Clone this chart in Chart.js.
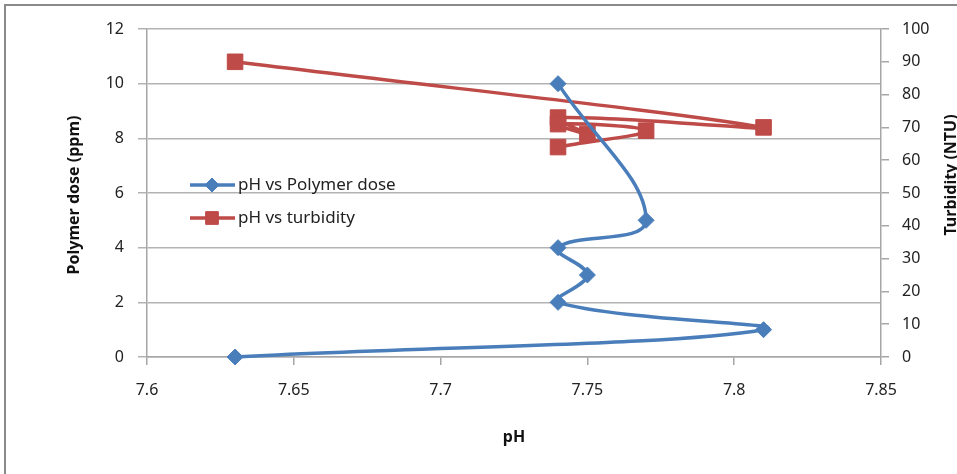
<!DOCTYPE html>
<html>
<head>
<meta charset="utf-8">
<script src="https://cdn.jsdelivr.net/npm/chart.js@4.4.0/dist/chart.umd.min.js"></script>
<style>
  html, body { margin: 0; padding: 0; background: #fff; overflow: hidden; }
  #frame { position: absolute; left: 4px; top: 4px; width: 2000px; height: 2000px;
           border-left: 2px solid #8a8a8a; border-top: 2px solid #8a8a8a; }
  #wrap { position: absolute; left: 0; top: 0; width: 957px; height: 474px; }
</style>
</head>
<body>
<div id="frame"></div>
<div id="wrap"><canvas id="chart"></canvas></div>
<script>
// values
const phPolymer = [7.63, 7.81, 7.74, 7.75, 7.74, 7.77, 7.74];
const polymerDose = [0, 1, 2, 3, 4, 5, 10];
const phTurbidity = [7.63, 7.81, 7.74, 7.75, 7.74, 7.77, 7.74];
const turbidity = [90, 70, 73, 68, 71, 69, 64];
const seriesNames = ['pH vs Polymer dose', 'pH vs turbidity'];

const BLUE = '#4a7ebb';
const RED = '#be4b48';
const FONT = '"Noto Sans", "Open Sans", sans-serif';

function toPoints(xs, ys) {
    return xs.map((x, i) => ({ x: x, y: ys[i] }));
}

// legend sits inside the plot, Excel style
const insideLegend = {
    id: 'insideLegend',
    afterDraw(chart) {
        const ctx = chart.ctx;
        ctx.save();
        chart.data.datasets.forEach((ds, i) => {
            const y = 185 + i * 33;
            ctx.strokeStyle = ds.borderColor;
            ctx.lineWidth = 3.5;
            ctx.beginPath();
            ctx.moveTo(190, y);
            ctx.lineTo(235, y);
            ctx.stroke();
            ctx.fillStyle = ds.backgroundColor;
            ctx.strokeStyle = ds.borderColor;
            ctx.lineWidth = 1;
            Chart.helpers.drawPoint(ctx, { pointStyle: ds.pointStyle, radius: i === 0 ? 7 : 9, rotation: 0, borderWidth: 1 }, 212, y);
            ctx.fillStyle = '#222';
            ctx.font = '17px ' + FONT;
            ctx.textBaseline = 'middle';
            ctx.textAlign = 'left';
            ctx.fillText(ds.label, 238, y);
        });
        ctx.restore();
    }
};

// axis titles drawn by hand so the right one reads bottom to top
const axisTitles = {
    id: 'axisTitles',
    afterDraw(chart) {
        const ctx = chart.ctx;
        const a = chart.chartArea;
        ctx.save();
        ctx.fillStyle = '#111';
        ctx.font = 'bold 16px ' + FONT;
        ctx.textAlign = 'center';
        ctx.textBaseline = 'middle';
        ctx.fillText('pH', (a.left + a.right) / 2, 437);
        ctx.translate(74, (a.top + a.bottom) / 2 + 2);
        ctx.rotate(-Math.PI / 2);
        ctx.fillText('Polymer dose (ppm)', 0, 0);
        ctx.restore();
        ctx.save();
        ctx.fillStyle = '#111';
        ctx.font = 'bold 16px ' + FONT;
        ctx.textAlign = 'center';
        ctx.textBaseline = 'middle';
        ctx.translate(951, 175);
        ctx.rotate(-Math.PI / 2);
        ctx.fillText('Turbidity (NTU)', 0, 0);
        ctx.restore();
    }
};

new Chart(document.getElementById('chart'), {
    type: 'scatter',
    data: {
        datasets: [{
            label: seriesNames[0],
            data: toPoints(phPolymer, polymerDose),
            yAxisID: 'y',
            showLine: true,
            tension: 0.4,
            borderColor: BLUE,
            backgroundColor: BLUE,
            borderWidth: 3.5,
            pointStyle: 'rectRot',
            pointRadius: 8,
            pointBorderWidth: 1,
            clip: false
        }, {
            label: seriesNames[1],
            data: toPoints(phTurbidity, turbidity),
            yAxisID: 'y1',
            showLine: true,
            tension: 0.4,
            borderColor: RED,
            backgroundColor: RED,
            borderWidth: 3.5,
            pointStyle: 'rect',
            pointRadius: 11,
            pointBorderWidth: 1,
            clip: false
        }]
    },
    options: {
        responsive: true,
        maintainAspectRatio: false,
        animation: false,
        layout: { padding: { top: 29, left: 0, right: 0, bottom: 0 } },
        plugins: {
            legend: { display: false },
            tooltip: { enabled: false }
        },
        scales: {
            x: {
                type: 'linear',
                min: 7.6,
                max: 7.85,
                afterFit(s) { s.height = 117; },
                afterBuildTicks(s) {
                    s.ticks = [7.6, 7.65, 7.7, 7.75, 7.8, 7.85].map(v => ({ value: v }));
                },
                ticks: {
                    color: '#222',
                    font: { family: FONT, size: 16 },
                    padding: 16,
                    callback: v => String(Math.round(v * 100) / 100)
                },
                grid: { drawOnChartArea: false, color: '#a6a6a6', lineWidth: 1.5, tickLength: 8 },
                border: { color: '#a6a6a6', width: 1.5 }
            },
            y: {
                position: 'left',
                min: 0,
                max: 12,
                afterFit(s) { s.width = 147; },
                ticks: { stepSize: 2, color: '#222', font: { family: FONT, size: 16 }, padding: 14 },
                grid: { color: '#b3b3b3', lineWidth: 1.5, tickLength: 9 },
                border: { color: '#a6a6a6', width: 1.5 }
            },
            y1: {
                position: 'right',
                min: 0,
                max: 100,
                afterFit(s) { s.width = 76; },
                ticks: { stepSize: 10, color: '#222', font: { family: FONT, size: 16 }, padding: 13 },
                grid: { drawOnChartArea: false, color: '#a6a6a6', lineWidth: 1.5, tickLength: 8 },
                border: { color: '#a6a6a6', width: 1.5 }
            }
        }
    },
    plugins: [insideLegend, axisTitles]
});
</script>
</body>
</html>
